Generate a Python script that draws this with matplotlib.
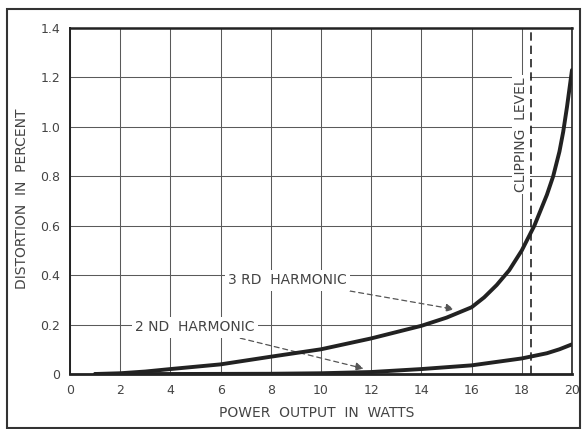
# Distortion vs power output (3rd and 2nd harmonic)

import matplotlib
matplotlib.use('Agg')
import matplotlib.pyplot as plt
from matplotlib.patches import Rectangle

# values
watts_3rd = [1, 2, 3, 4, 6, 8, 10, 12, 14, 15, 16, 16.5, 17, 17.5, 18, 18.5,
             19.0, 19.25, 19.5, 19.65, 19.8, 20]
dist_3rd = [0, 0.003, 0.01, 0.02, 0.039, 0.07, 0.1, 0.144, 0.195, 0.228, 0.27, 0.31,
            0.36, 0.42, 0.5, 0.6, 0.725, 0.8, 0.9, 0.98, 1.08, 1.23]

watts_2nd = [1, 4, 8, 10, 12, 14, 16, 18, 19, 19.5, 20]
dist_2nd = [0, 0, 0.001, 0.003, 0.008, 0.02, 0.035, 0.063, 0.084, 0.10, 0.12]

clipping_watts = 18.35

x_ticks = [0, 2, 4, 6, 8, 10, 12, 14, 16, 18, 20]
y_ticks = [0, 0.2, 0.4, 0.6, 0.8, 1.0, 1.2, 1.4]
y_tick_labels = ['0', '0.2', '0.4', '0.6', '0.8', '1.0', '1.2', '1.4']

ink = '#222222'
txt = '#444444'

fig = plt.figure(figsize=(5.82, 4.29), dpi=100)
ax = fig.add_axes([0.1203, 0.1282, 0.8625, 0.8065])

ax.plot(watts_3rd, dist_3rd, color=ink, lw=2.8, solid_capstyle='round', zorder=4)
ax.plot(watts_2nd, dist_2nd, color=ink, lw=2.8, solid_capstyle='round', zorder=4)

ax.axis([0, 20, 0, 1.4])
ax.set_xticks(x_ticks)
ax.set_xticklabels([str(t) for t in x_ticks])
ax.set_yticks(y_ticks)
ax.set_yticklabels(y_tick_labels)
ax.tick_params(length=0, labelsize=9, labelcolor=txt)
ax.tick_params(axis='x', pad=7)
ax.tick_params(axis='y', pad=7)
ax.grid(True, color='#5a5a5a', lw=0.75)
ax.set_axisbelow(True)

for side in ['left', 'right', 'bottom', 'top']:
    ax.spines[side].set_color(ink)
ax.spines['top'].set_linewidth(1.8)
ax.spines['left'].set_linewidth(1.4)
ax.spines['bottom'].set_linewidth(2.0)
ax.spines['right'].set_linewidth(1.2)

ax.set_xlabel('POWER  OUTPUT  IN  WATTS', fontsize=10, color=txt)
ax.xaxis.set_label_coords(0.491, -0.092)
ax.set_ylabel('DISTORTION  IN  PERCENT', fontsize=10, color=txt)
ax.yaxis.set_label_coords(-0.082, 0.506)

# clipping level
ax.axvline(clipping_watts, color=ink, lw=1.2, ls=(0, (5, 3)), zorder=5)
ax.text(17.96, 0.97, 'CLIPPING  LEVEL', rotation=90, ha='center', va='center',
        fontsize=10, color=txt, zorder=3,
        bbox=dict(boxstyle='square,pad=0.15', fc='white', ec='none'))

# curve labels with dashed arrows
box = dict(boxstyle='square,pad=0.25', fc='white', ec='none')
arrow = dict(arrowstyle='-|>', ls=(0, (4, 3)), color='#555555', lw=0.9,
             mutation_scale=12, shrinkA=2, shrinkB=0)
ax.annotate('3 RD  HARMONIC', xy=(15.3, 0.262), xytext=(6.3, 0.38),
            ha='left', va='center', fontsize=10, color=txt, bbox=box,
            arrowprops=arrow, zorder=3)
ax.annotate('2 ND  HARMONIC', xy=(11.7, 0.022), xytext=(2.6, 0.19),
            ha='left', va='center', fontsize=10, color=txt, bbox=box,
            arrowprops=arrow, zorder=3)

# outer frame of the figure
fig.patches.append(Rectangle((0.012, 0.003), 0.985, 0.976, transform=fig.transFigure,
                             fill=False, ec='#333333', lw=1.5))

fig.savefig('out.png', dpi=100)
